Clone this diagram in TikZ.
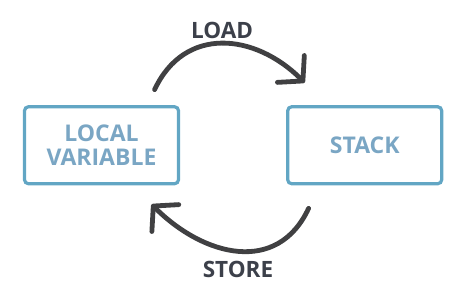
\documentclass[tikz,border=0pt]{standalone}
\usepackage{fontspec}
\setmainfont{Open Sans}
\usepackage{xcolor}
\usetikzlibrary{arrows.meta,positioning}
\definecolor{boxline}{RGB}{98,166,196}
\definecolor{boxtext}{RGB}{122,166,196}
\definecolor{arrowgray}{RGB}{64,64,66}
\definecolor{labelgray}{RGB}{60,64,74}
\begin{document}
\begin{tikzpicture}[x=1pt,y=1pt,box/.style={draw=boxline,line width=3.2pt,rounded corners=4pt,align=center,minimum width=154pt,minimum height=77pt,text=boxtext,font=\fontsize{23}{23.5}\selectfont\bfseries},flow/.style={draw=arrowgray,line width=4.8pt,line cap=round,-{Straight Barb[length=17pt,width=38pt,round]}},lbl/.style={text=labelgray,font=\fontsize{22.5}{23}\selectfont\bfseries,inner sep=1pt}]
\useasboundingbox (0,0) rectangle (462,285);
\node[box] (lv) at (101.5,139.75) {LOCAL\\VARIABLE};
\node[box,right=106pt of lv] (st) {STACK};
\draw[flow] ([shift={(-25.5,15.5)}]lv.north east) to[out=65,in=135,looseness=1.2] node[midway,above=1pt,lbl] (ld) {LOAD} ([shift={(18.5,22.5)}]st.north west);
\draw[flow] ([shift={(22.5,-23)}]st.south west) to[out=-115,in=-45,looseness=1.2] node[midway,below=7pt,lbl] (sr) {STORE} ([shift={(-28.5,-19)}]lv.south east);
\end{tikzpicture}
\end{document}
